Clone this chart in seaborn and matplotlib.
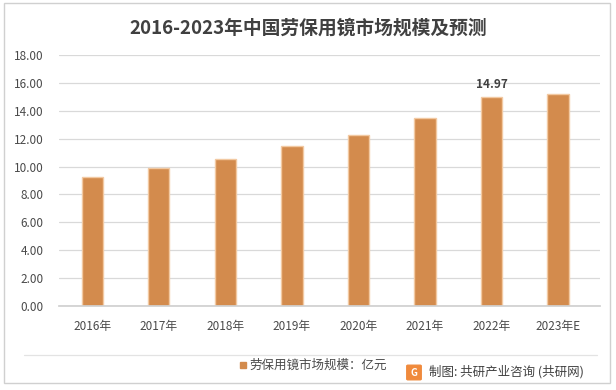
import pandas as pd
import matplotlib.pyplot as plt
import seaborn as sns
from matplotlib.patches import Rectangle, FancyBboxPatch
from matplotlib.lines import Line2D

years = ['2016年', '2017年', '2018年', '2019年', '2020年', '2021年', '2022年', '2023年E']
market_size = [9.26, 9.90, 10.55, 11.47, 12.28, 13.50, 14.97, 15.23]
label_year = '2022年'
yticks = [0, 2, 4, 6, 8, 10, 12, 14, 16, 18]

title = '2016-2023年中国劳保用镜市场规模及预测'
legend_text = '劳保用镜市场规模：亿元'
source_text = '制图: 共研产业咨询 (共研网)'

bar_color = '#D38B4D'
edge_color = '#F2C9A2'
text_color = '#4A4A4A'

df = pd.DataFrame({'year': years, 'size': market_size})

sns.set_theme(style='white')
plt.rcParams['font.family'] = ['Noto Sans CJK SC', 'DejaVu Sans']

fig = plt.figure(figsize=(6.16, 3.90), dpi=100)
ax = fig.add_axes([59 / 616, 84 / 390, (600 - 59) / 616, (306 - 55) / 390])

sns.barplot(data=df, x='year', y='size', color=bar_color, width=0.32,
            edgecolor=edge_color, linewidth=1.0, saturation=1, ax=ax)

ax.set_ylim(0, 18)
ax.set_xlim(-0.5, 7.63)
ax.set_yticks(yticks)
ax.set_yticklabels([f'{v:.2f}' for v in yticks], fontsize=8.5, color=text_color)
ax.set_xticks(range(len(years)))
ax.set_xticklabels(years, fontsize=8.5, color=text_color)
ax.tick_params(axis='y', length=0, pad=11)
ax.tick_params(axis='x', length=0, pad=10)
ax.set_xlabel('')
ax.set_ylabel('')
ax.grid(axis='y', color='#D9D9D9', linewidth=0.9)
ax.set_axisbelow(True)
for s in ['top', 'right', 'left']:
    ax.spines[s].set_visible(False)
ax.spines['bottom'].set_color('#D0D0D0')

# data label on the 2022 bar
i = years.index(label_year)
ax.text(i, market_size[i] + 0.45, f'{market_size[i]:.2f}', ha='center', va='bottom',
        fontsize=8.5, fontweight='bold', color='#404040')

fig.text(0.5, 0.928, title, ha='center', va='center', fontsize=13.5,
         fontweight='bold', color='#404040')

# outer frame and separator line
fig.patches.append(Rectangle((4 / 616, 7 / 390), 606 / 616, 380 / 390, transform=fig.transFigure,
                             fill=False, edgecolor='#D0D0D0', linewidth=1.0))
fig.lines.append(Line2D([24 / 616, 597 / 616], [35 / 390, 35 / 390], transform=fig.transFigure,
                        color='#E3E3E3', linewidth=0.9))

# legend
fig.patches.append(Rectangle((240 / 616, (390 - 368) / 390), 6 / 616, 6 / 390,
                             transform=fig.transFigure, color=bar_color))
fig.text(249 / 616, (390 - 365) / 390, legend_text, ha='left', va='center',
         fontsize=9, color=text_color)

# source with small logo
fig.patches.append(FancyBboxPatch((408 / 616, (390 - 379) / 390), 12 / 616, 13 / 390,
                                  boxstyle='round,pad=0.002', transform=fig.transFigure,
                                  color='#F08A3C'))
fig.text(414 / 616, (390 - 372.5) / 390, 'G', ha='center', va='center', fontsize=7,
         fontweight='bold', color='white')
fig.text(429 / 616, (390 - 372) / 390, source_text, ha='left', va='center',
         fontsize=9, color='#404040')

fig.savefig('out.png', dpi=100)
